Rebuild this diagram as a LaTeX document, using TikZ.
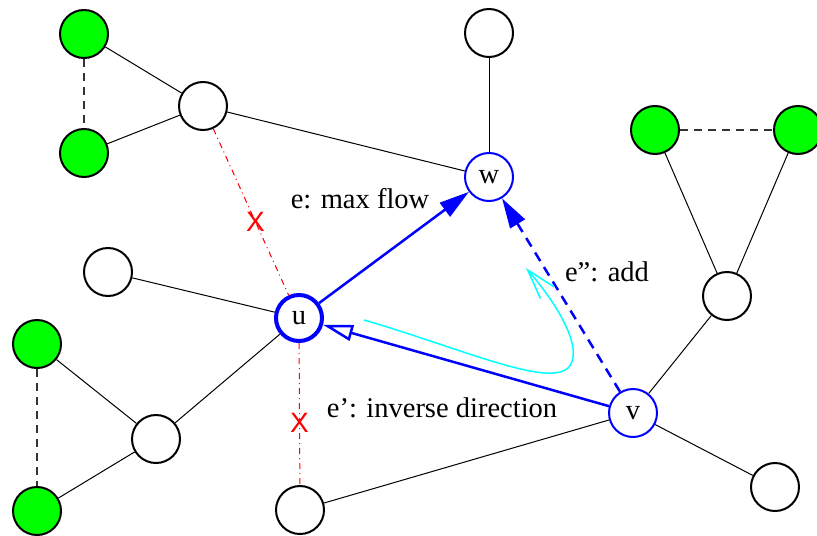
\documentclass[tikz,border=0pt]{standalone}
\usepackage{fontspec}
\setmainfont{Liberation Serif}
\newfontfamily\crossfont{Liberation Sans}
\usetikzlibrary{arrows.meta,positioning}
\definecolor{vgreen}{RGB}{0,255,0}
\definecolor{vcyan}{RGB}{0,255,255}
\tikzset{
  vtx/.style={circle,draw,line width=1pt,minimum size=24pt,inner sep=0pt},
  gvtx/.style={vtx,fill=vgreen},
  bvtx/.style={vtx,draw=blue},
  uvtx/.style={vtx,draw=blue,line width=2pt,minimum size=23pt},
  uedge/.style={line width=0.5pt},
  gedge/.style={line width=0.6pt,dashed,dash pattern=on 4pt off 3pt,black!80},
  flowedge/.style={-{Triangle[length=15pt,width=8.5pt]},blue,line width=1.25pt},
  addedge/.style={flowedge,dashed,dash pattern=on 5pt off 3.5pt},
  invedge/.style={-{Triangle[open,length=15pt,width=8pt]},blue,line width=1.25pt},
  cut/.style={red,line width=0.5pt,dash dot},
  cutmark/.style={red,font=\crossfont\fontsize{14pt}{14pt}\selectfont,inner sep=0pt},
  turn/.style={-{Straight Barb[length=15pt,width=9pt]},vcyan,line width=0.75pt},
  every node/.style={font=\fontsize{14.25pt}{17pt}\selectfont}
}

\begin{document}
\begin{tikzpicture}[x=0.5pt,y=-0.5pt]
\useasboundingbox (0,0) rectangle (817,535);
% vertices
\node[gvtx] (g1) at (84,34) {};
\node[gvtx] (g2) at (84,153) {};
\node[vtx] (a) at (203,106) {};
\node[vtx] (t) at (489,33) {};
\node[bvtx] (w) at (489,177) {w};
\node[gvtx] (g3) at (655,130) {};
\node[gvtx] (g4) at (798,130) {};
\node[vtx] (r) at (727,296) {};
\node[vtx] (l) at (108,272) {};
\node[uvtx] (u) at (299,318) {u};
\node[gvtx] (g5) at (37,344) {};
\node[vtx] (l2) at (156,439) {};
\node[gvtx] (g6) at (37,511) {};
\node[bvtx] (v) at (633,413) {v};
\node[vtx] (b) at (300,510) {};
\node[vtx] (br) at (775,487) {};
% edges
\foreach \p/\q in {g1/a,g2/a,a/w,t/w,l/u,u/l2,l2/g5,l2/g6,b/v,v/br,v/r,r/g3,r/g4} {
  \draw[uedge] (\p) -- (\q);
}
\draw[gedge] (g1) -- (g2);
\draw[gedge] (g3) -- (g4);
\draw[gedge] (g5) -- (g6);
% removed edges
\draw[cut] (a) -- node[pos=0.56,cutmark] (x1) {X} (u);
\draw[cut] (u) -- node[pos=0.56,cutmark] (x2) {X} (b);
% flow edges
\draw[flowedge] (u) -- (w);
\draw[addedge] (v) -- (w);
\draw[invedge] (v) -- (u);
\draw[turn] (364,320) .. controls (450,345) and (530,380) .. (560,372)
  .. controls (585,366) and (575,325) .. (526,268);
% labels
\node (emax) at (360,199) {e: max flow};
\node (eadd) at (607,272) {e\symbol{"22}: add};
\node (einv) at (442,408) {e': inverse direction};
\end{tikzpicture}
\end{document}
